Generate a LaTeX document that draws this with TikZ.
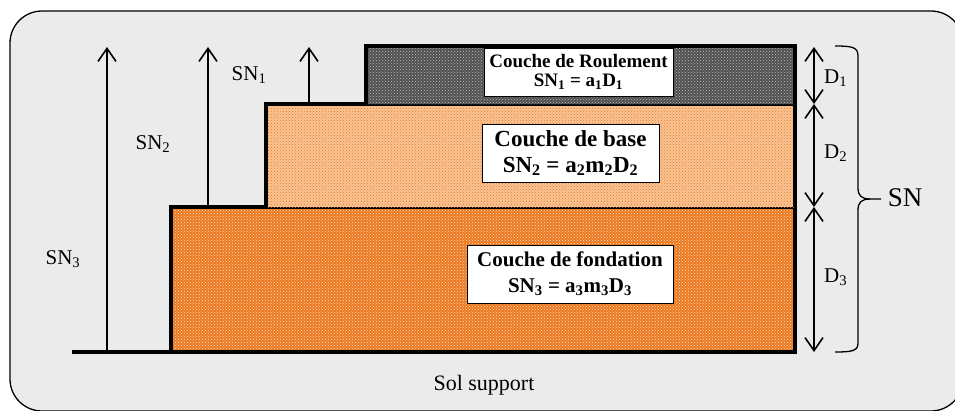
\documentclass[tikz,border=0pt]{standalone}
\usepackage{fontspec}
\setmainfont{Liberation Serif}
\usetikzlibrary{arrows.meta,patterns}
\definecolor{bgc}{RGB}{235,235,235}
\definecolor{orgA}{RGB}{236,120,30}
\definecolor{orgB}{RGB}{248,196,150}
\definecolor{grayR}{RGB}{80,80,80}
\begin{document}
\begin{tikzpicture}[x=1pt,y=-1pt,
  layer/.style={line width=4pt, line join=miter},
  tbox/.style={draw=black, line width=0.8pt, fill=white, align=center, inner sep=0pt},
  lbl/.style={font=\fontsize{21}{24}\selectfont, inner sep=0pt},
  uparr/.style={line width=1.6pt, -{Straight Barb[length=13pt,width=18pt,line width=1.6pt]}},
  dimarr/.style={line width=1.6pt, {Straight Barb[length=13pt,width=18pt,line width=1.6pt]}-{Straight Barb[length=13pt,width=18pt,line width=1.6pt]}}
]
\useasboundingbox (0,0) rectangle (955,410);
\draw[fill=bgc, line width=1.3pt, rounded corners=32pt] (10,11) rectangle (963,411);

% layers
\path[preaction={fill=orgA}, pattern=crosshatch dots, pattern color=white!80!orgA] (171,207) rectangle (795,352);
\draw[layer] (171,352) -- (171,207) -- (795,207) -- (795,352);
\path[preaction={fill=orgB}, pattern=crosshatch dots, pattern color=orgA] (266,104) rectangle (795,207);
\draw[layer] (266,207) -- (266,104) -- (795,104) -- (795,207);
\path[preaction={fill=grayR}, pattern=crosshatch dots, pattern color=white!75!black] (366,46) rectangle (795,104);
\draw[layer] (366,104) -- (366,46) -- (795,46) -- (795,104);
\draw[line width=4.5pt] (72,352) -- (797,352);

% coordinates
\coordinate (g3) at (107,352);
\coordinate (t3) at (107,47);
\coordinate (g2) at (208,205);
\coordinate (t2) at (208,47);
\coordinate (g1) at (309,102);
\coordinate (t1) at (309,47);
\draw[uparr] (g3) -- (t3);
\draw[uparr] (g2) -- (t2);
\draw[uparr] (g1) -- (t1);

\node[lbl] (sn1) at (249,75) {SN\textsubscript{1}};
\node[lbl] (sn2) at (153,144) {SN\textsubscript{2}};
\node[lbl] (sn3) at (63,259) {SN\textsubscript{3}};

% text boxes
\node[tbox, minimum width=189pt, minimum height=48pt, font=\bfseries\fontsize{19}{19}\selectfont] (rb) at (578.5,72) {Couche de Roulement\\SN\textsubscript{1} = a\textsubscript{1}D\textsubscript{1}};
\node[tbox, minimum width=177pt, minimum height=58pt, font=\bfseries\fontsize{23}{26}\selectfont] (bb) at (570.5,153) {Couche de base\\SN\textsubscript{2} = a\textsubscript{2}m\textsubscript{2}D\textsubscript{2}};
\node[tbox, minimum width=206pt, minimum height=58pt, font=\bfseries\fontsize{21}{26}\selectfont] (fb) at (570,274) {Couche de fondation\\SN\textsubscript{3} = a\textsubscript{3}m\textsubscript{3}D\textsubscript{3}};

% dimension arrows
\coordinate (d0) at (814,47);
\coordinate (d1) at (814,104);
\coordinate (d2) at (814,207);
\coordinate (d3) at (814,352);
\draw[dimarr] (d0) -- (d1);
\draw[dimarr] (d1) -- (d2);
\draw[dimarr] (d2) -- (d3);
\node[lbl, anchor=west] (D1) at (824,78) {D\textsubscript{1}};
\node[lbl, anchor=west] (D2) at (824,153) {D\textsubscript{2}};
\node[lbl, anchor=west] (D3) at (824,277) {D\textsubscript{3}};

% brace
\draw[line width=1.3pt] (835,46) .. controls (852,46) and (858,47) .. (858,56) -- (858,188)
  .. controls (858,196) and (862,199) .. (870,199) -- (881,199);
\draw[line width=1.3pt] (870,199) .. controls (862,199) and (858,202) .. (858,210) -- (858,343)
  .. controls (858,351) and (852,352) .. (835,352);
\node[font=\fontsize{27}{30}\selectfont, inner sep=0pt] (SN) at (905,198) {SN};

\node[font=\fontsize{22}{24}\selectfont, inner sep=0pt] (sol) at (484,385) {Sol support};
\end{tikzpicture}
\end{document}
